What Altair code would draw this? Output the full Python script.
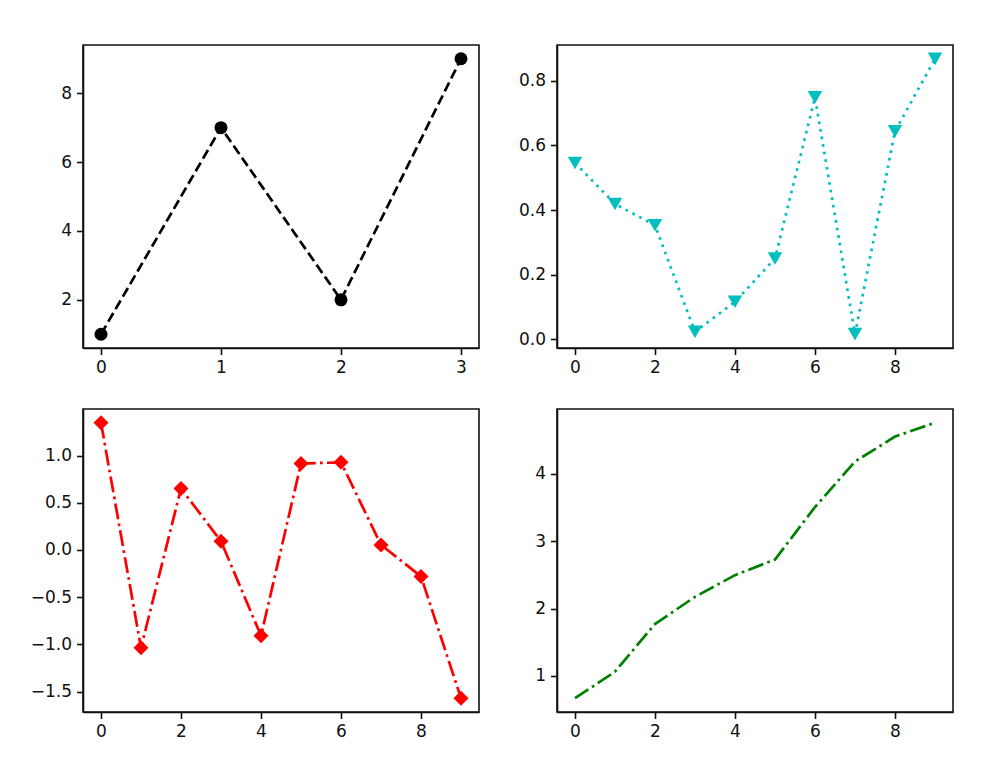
import altair as alt
import pandas as pd

# Panel 1 (top-left)
x1 = [0, 1, 2, 3]
y1 = [1, 7, 2, 9]
# Panel 2 (top-right)
x2 = [0, 1, 2, 3, 4, 5, 6, 7, 8, 9]
y2 = [0.546, 0.419, 0.353, 0.023, 0.116, 0.250, 0.749, 0.016, 0.644, 0.868]
# Panel 3 (bottom-left)
x3 = [0, 1, 2, 3, 4, 5, 6, 7, 8, 9]
y3 = [1.348, -1.036, 0.652, 0.093, -0.909, 0.916, 0.929, 0.054, -0.280, -1.571]
# Panel 4 (bottom-right)
x4 = [0, 1, 2, 3, 4, 5, 6, 7, 8, 9]
y4 = [0.670, 1.064, 1.770, 2.174, 2.495, 2.727, 3.506, 4.180, 4.550, 4.755]

W, H = 396, 303
FONT = "DejaVu Sans"
LW = 2.7


def panel(xs, ys, color, dash, shape, size, xdom, xticks, ydom, yticks, yfmt):
    df = pd.DataFrame({"x": xs, "y": ys})
    xenc = alt.X("x:Q", scale=alt.Scale(domain=xdom, nice=False, zero=False),
                 axis=alt.Axis(values=xticks, format="d", title=None))
    yenc = alt.Y("y:Q", scale=alt.Scale(domain=ydom, nice=False, zero=False),
                 axis=alt.Axis(values=yticks, format=yfmt, title=None))
    base = alt.Chart(df).encode(x=xenc, y=yenc)
    line = base.mark_line(color=color, strokeWidth=LW, strokeDash=dash, clip=True)
    layers = [line]
    if shape is not None:
        pts = base.mark_point(shape=shape, filled=True, color=color, size=size,
                              opacity=1, clip=True)
        layers.append(pts)
    return alt.layer(*layers).properties(width=W, height=H)


p1 = panel(x1, y1, "black", [10, 4.5], "circle", 169,
           [-0.15, 3.15], [0, 1, 2, 3], [0.6, 9.4], [2, 4, 6, 8], "d")
p2 = panel(x2, y2, "#00bfbf", [2.7, 5], "triangle-down", 210,
           [-0.45, 9.45], [0, 2, 4, 6, 8], [-0.027, 0.911],
           [0.0, 0.2, 0.4, 0.6, 0.8], ".1f")
p3 = panel(x3, y3, "#ff0000", [16, 4.3, 2.7, 4.3], "diamond", 225,
           [-0.45, 9.45], [0, 2, 4, 6, 8], [-1.717, 1.494],
           [-1.5, -1.0, -0.5, 0.0, 0.5, 1.0], ".1f")
p4 = panel(x4, y4, "#008000", [16, 4.3, 2.7, 4.3], None, 0,
           [-0.45, 9.45], [0, 2, 4, 6, 8], [0.466, 4.959],
           [1, 2, 3, 4], "d")

chart = alt.concat(p1, p2, p3, p4, columns=2,
                   spacing={"row": 61, "column": 78}, bounds="flush").properties(
    padding={"left": 21, "top": 36, "right": 10, "bottom": 10},
    background="white",
).configure_view(
    stroke="#111111", strokeWidth=1.6
).configure_axis(
    grid=False,
    domainColor="#111111", domainWidth=1.6,
    tickColor="#111111", tickWidth=1.6, tickSize=6.5,
    labelFont=FONT, labelFontSize=17, labelColor="#111111",
    labelPadding=5,
)

chart.save("out.html", embed_options={"renderer": "svg", "actions": False})
